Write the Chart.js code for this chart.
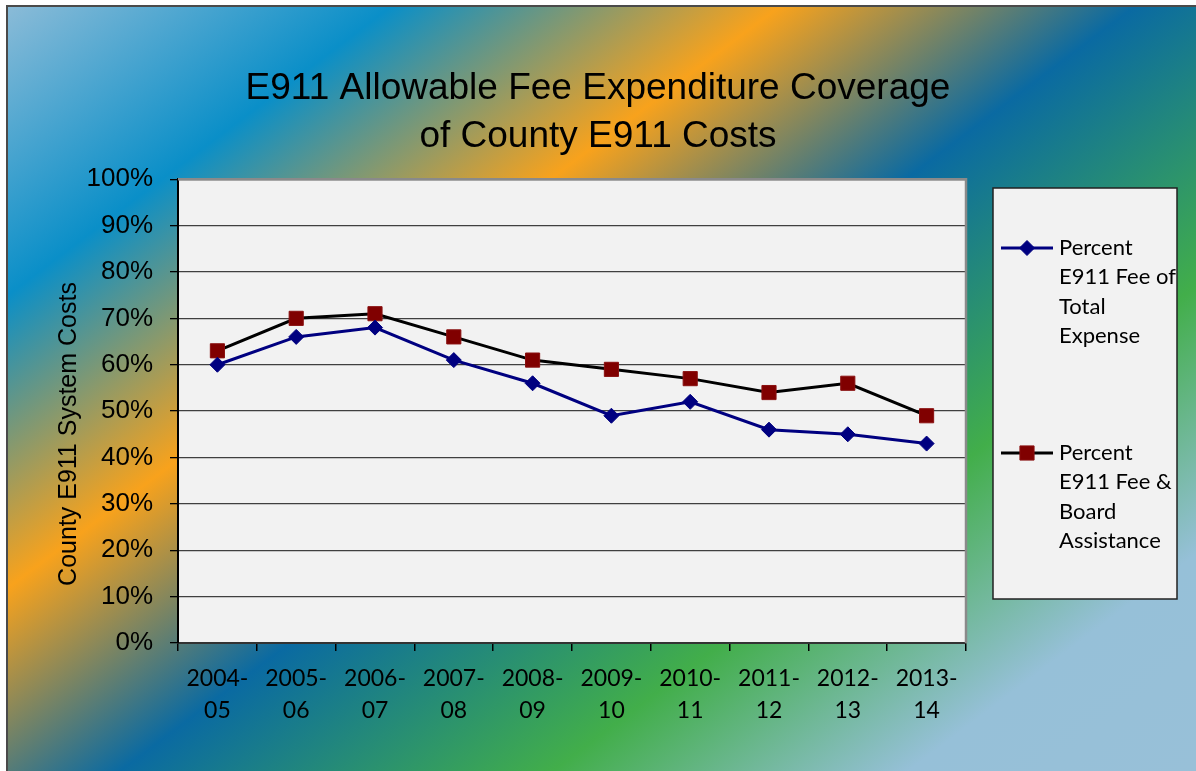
<!DOCTYPE html>
<html>
<head>
<meta charset="utf-8">
<script src="https://cdn.jsdelivr.net/npm/chart.js@4.4.1/dist/chart.umd.min.js"></script>
<style>
  html, body { margin: 0; padding: 0; background: #fff; }
  canvas { display: block; }
</style>
</head>
<body>
<canvas id="chart" width="1196" height="771"></canvas>
<script>
const years = [
    ['2004-', '05'], ['2005-', '06'], ['2006-', '07'], ['2007-', '08'], ['2008-', '09'],
    ['2009-', '10'], ['2010-', '11'], ['2011-', '12'], ['2012-', '13'], ['2013-', '14']
];
const feeOnly = [60, 66, 68, 61, 56, 49, 52, 46, 45, 43];
const feeAndBoard = [63, 70, 71, 66, 61, 59, 57, 54, 56, 49];
const seriesNames = ['Percent E911 Fee of Total Expense', 'Percent E911 Fee & Board Assistance'];
const chartTitle = ['E911 Allowable Fee Expenditure Coverage', 'of County E911 Costs'];
const yTitle = 'County E911 System Costs';

const W = 1196, H = 771;

// background, plot fill, frame, custom legend and axis title
const decor = {
    id: 'decor',
    beforeDraw(chart) {
        const { ctx, chartArea: a } = chart;
        ctx.save();
        ctx.fillStyle = '#fff';
        ctx.fillRect(0, 0, W, H);

        const g = ctx.createLinearGradient(0, 0, 804, 1067);
        g.addColorStop(0, '#90bdd8');
        g.addColorStop(0.18, '#0a8fc8');
        g.addColorStop(0.355, '#f8a21c');
        g.addColorStop(0.515, '#0a6aa2');
        g.addColorStop(0.71, '#42ae4a');
        g.addColorStop(0.87, '#96c0d8');
        g.addColorStop(1, '#98c0d8');
        ctx.fillStyle = g;
        ctx.fillRect(6, 5, W - 6, H - 5);

        ctx.strokeStyle = '#4a4a4a';
        ctx.lineWidth = 2;
        ctx.beginPath();
        ctx.moveTo(7, H);
        ctx.lineTo(7, 6);
        ctx.lineTo(W, 6);
        ctx.stroke();

        ctx.fillStyle = '#f2f2f2';
        ctx.fillRect(a.left, a.top, a.width, a.height);
        ctx.restore();
    },
    beforeDatasetsDraw(chart) {
        const { ctx, chartArea: a } = chart;
        ctx.save();
        ctx.strokeStyle = '#8a8a8a';
        ctx.lineWidth = 2.5;
        ctx.beginPath();
        ctx.moveTo(a.left, a.top);
        ctx.lineTo(a.right, a.top);
        ctx.lineTo(a.right, a.bottom);
        ctx.stroke();
        ctx.restore();
    },
    afterDraw(chart) {
        const ctx = chart.ctx;
        ctx.save();

        // y axis title
        ctx.translate(69, 434);
        ctx.rotate(-Math.PI / 2);
        ctx.font = '25px "Liberation Sans", Arial, sans-serif';
        ctx.fillStyle = '#000';
        ctx.textAlign = 'center';
        ctx.textBaseline = 'middle';
        ctx.fillText(yTitle, 0, 0);
        ctx.setTransform(1, 0, 0, 1, 0, 0);

        // legend box
        ctx.fillStyle = '#f2f2f2';
        ctx.fillRect(993, 188, 184, 411);
        ctx.strokeStyle = '#222';
        ctx.lineWidth = 1.5;
        ctx.strokeRect(993, 188, 184, 411);

        ctx.font = '22px Lato, "Noto Sans", sans-serif';
        ctx.textAlign = 'left';
        ctx.textBaseline = 'middle';
        const rowY = [248, 453];
        chart.data.datasets.forEach((ds, i) => {
            const y = rowY[i];
            ctx.strokeStyle = ds.borderColor;
            ctx.lineWidth = ds.borderWidth;
            ctx.beginPath();
            ctx.moveTo(1001, y);
            ctx.lineTo(1053, y);
            ctx.stroke();
            ctx.fillStyle = ds.pointBackgroundColor;
            ctx.strokeStyle = ds.pointBorderColor;
            ctx.lineWidth = 1;
            Chart.helpers.drawPoint(ctx, {
                pointStyle: ds.pointStyle, radius: ds.pointRadius, rotation: 0, borderWidth: 1
            }, 1027, y);

            // wrap label into the box width
            const words = ds.label.split(' ');
            const lines = [];
            let cur = '';
            words.forEach(w => {
                const t = cur ? cur + ' ' + w : w;
                if (ctx.measureText(t).width > 117 && cur) {
                    lines.push(cur);
                    cur = w;
                } else cur = t;
            });
            lines.push(cur);
            ctx.fillStyle = '#000';
            lines.forEach((l, k) => ctx.fillText(l, 1059, y + k * 29.3));
        });
        ctx.restore();
    }
};

new Chart(document.getElementById('chart'), {
    type: 'line',
    data: {
        labels: years,
        datasets: [
            {
                label: seriesNames[0],
                data: feeOnly,
                borderColor: '#000080',
                borderWidth: 3,
                pointStyle: 'rectRot',
                pointRadius: 7.5,
                pointBackgroundColor: '#000080',
                pointBorderColor: '#000080',
                pointBorderWidth: 1,
                tension: 0
            },
            {
                label: seriesNames[1],
                data: feeAndBoard,
                borderColor: '#000000',
                borderWidth: 3,
                pointStyle: 'rect',
                pointRadius: 10,
                pointBackgroundColor: '#800000',
                pointBorderColor: '#8a1010',
                pointBorderWidth: 1,
                tension: 0
            }
        ]
    },
    options: {
        responsive: false,
        animation: false,
        layout: { padding: 0 },
        plugins: {
            legend: { display: false },
            tooltip: { enabled: false },
            title: {
                display: true,
                text: chartTitle,
                color: '#000',
                font: { family: '"Liberation Sans", Arial, sans-serif', size: 37, weight: 'normal', lineHeight: 1.3 },
                padding: { top: 65, bottom: 18 }
            }
        },
        scales: {
            x: {
                offset: true,
                afterFit(scale) { scale.height = 128; },
                grid: {
                    offset: true,
                    drawOnChartArea: false,
                    drawTicks: true,
                    tickLength: 8,
                    color: '#000',
                    lineWidth: 1.5
                },
                border: { color: '#333', width: 2 },
                ticks: {
                    color: '#000',
                    font: { family: 'Lato, "Noto Sans", sans-serif', size: 23, lineHeight: 1.4 },
                    padding: 11,
                    maxRotation: 0,
                    autoSkip: false
                }
            },
            y: {
                min: 0,
                max: 100,
                afterFit(scale) { scale.width = 178; },
                grid: {
                    color: '#404040',
                    lineWidth: 1.3,
                    tickColor: '#000',
                    tickLength: 8
                },
                border: { color: '#000', width: 2 },
                ticks: {
                    stepSize: 10,
                    color: '#000',
                    padding: 17,
                    font: { family: '"Liberation Sans", Arial, sans-serif', size: 26 },
                    callback: v => v + '%'
                }
            },
            // empty right-hand box that keeps room for the legend
            side: {
                position: 'right',
                min: 0,
                max: 100,
                afterFit(scale) { scale.width = 230; },
                grid: { display: false },
                border: { display: false },
                ticks: { display: false }
            }
        }
    },
    plugins: [decor]
});
</script>
</body>
</html>
